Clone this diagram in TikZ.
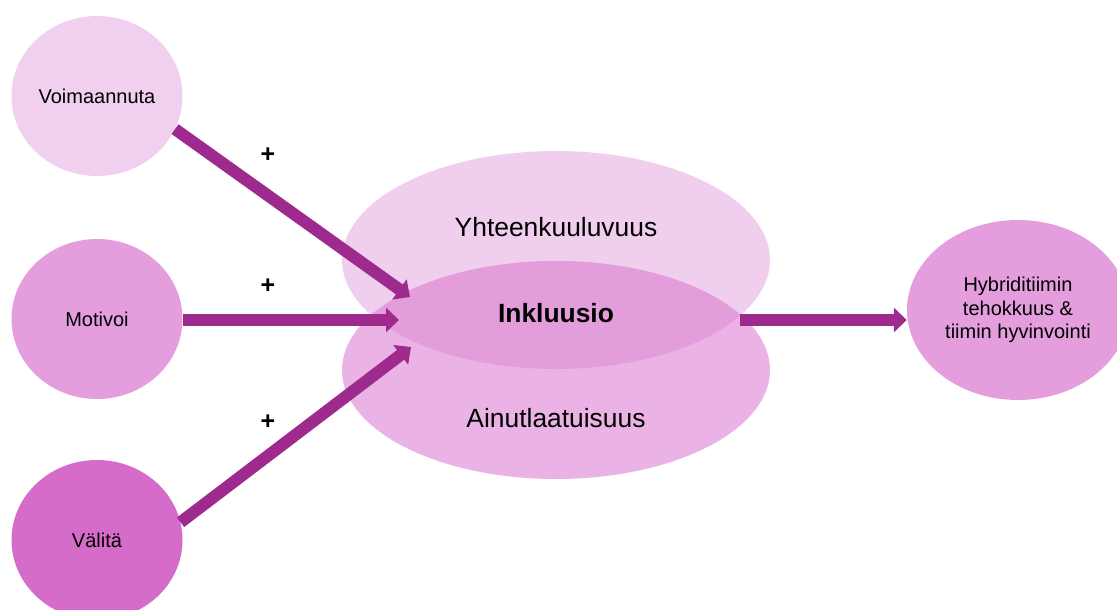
\documentclass[tikz,border=0pt]{standalone}
\usepackage{fontspec}
\setmainfont{Liberation Sans}
\usetikzlibrary{shapes.geometric,arrows.meta}
\definecolor{pinkA}{HTML}{F1CFEE}
\definecolor{pinkB}{HTML}{E49EDD}
\definecolor{pinkC}{HTML}{D66CC9}
\definecolor{topel}{HTML}{F0CEEE}
\definecolor{botel}{HTML}{EBB3E5}
\definecolor{lensc}{HTML}{E39DDB}
\definecolor{arrowc}{HTML}{9F2A8E}
\begin{document}
\begin{tikzpicture}[x=1pt,y=-1pt,
  blob/.style={ellipse, inner sep=0pt, draw=none, text=black,
    font=\fontsize{20}{23.5}\selectfont, align=center},
  big/.style={font=\fontsize{26.4}{30}\selectfont},
  flow/.style={draw=arrowc, line width=12pt,
    -{Triangle[width=24pt,length=13pt]}},
  sign/.style={font=\fontsize{25}{28}\selectfont\bfseries}]
\useasboundingbox (0,0) rectangle (1117,610);
\clip (0,0) rectangle (1117,610);

% left drivers
\node[blob, fill=pinkA, minimum width=171, minimum height=160] (voi) at (97,96) {Voimaannuta};
\node[blob, fill=pinkB, minimum width=171, minimum height=160] (mot) at (97,319) {Motivoi};
\node[blob, fill=pinkC, minimum width=171, minimum height=160] (val) at (97,540) {Välitä};

% two overlapping ellipses with the shared lens
\node[ellipse, inner sep=0pt, fill=topel, minimum width=428, minimum height=218] (yht) at (556,260) {};
\node[ellipse, inner sep=0pt, fill=botel, minimum width=428, minimum height=218] (ain) at (556,370) {};
\begin{scope}
  \clip (556,260) ellipse [x radius=214, y radius=109];
  \fill[lensc] (556,370) ellipse [x radius=214, y radius=109];
\end{scope}
\node[big] (yhtt) at (556,227) {Yhteenkuuluvuus};
\node[big] (aint) at (556,418) {Ainutlaatuisuus};
\node[big, font=\fontsize{26.4}{30}\selectfont\bfseries] (ink) at (556,313) {Inkluusio};

% outcome
\node[blob, fill=pinkB, minimum width=222, minimum height=180] (hyb) at (1018,310)
  {Hybriditiimin\\tehokkuus \&\\tiimin hyvinvointi};

% arrow ends at the lens
\coordinate (t1) at (410,297);
\coordinate (t2) at (399,320);
\coordinate (t3) at (411,347);
\coordinate (lensR) at (740,320);

\draw[flow] (voi.-23) -- (t1);
\draw[flow] (mot.east |- t2) -- (t2);
\draw[flow] (val.12) -- (t3);
\draw[flow] (lensR) -- (lensR -| hyb.west);

% signs
\node[sign] (p1) at (268,155) {+};
\node[sign] (p2) at (268,286) {+};
\node[sign] (p3) at (268,422) {+};
\end{tikzpicture}
\end{document}
